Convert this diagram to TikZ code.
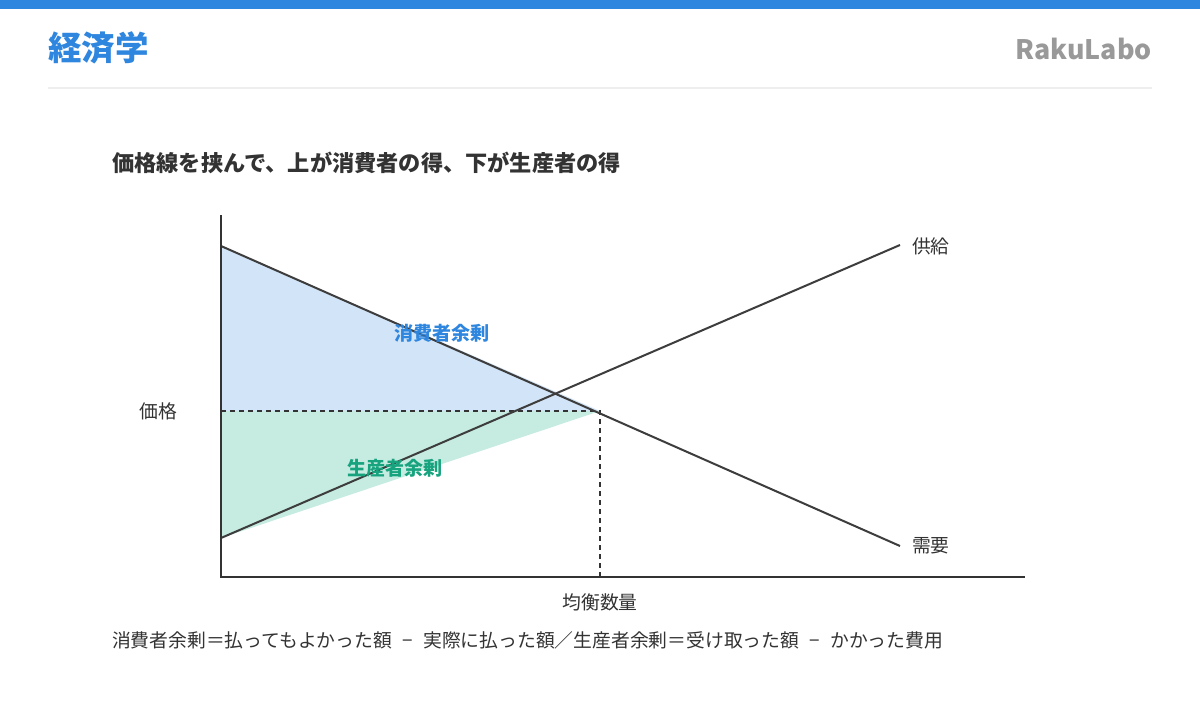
\documentclass[tikz,border=0pt]{standalone}
\usepackage{fontspec}
\setmainfont{Noto Sans CJK JP}
\definecolor{brandblue}{HTML}{2E86DE}
\definecolor{darktext}{HTML}{333333}
\definecolor{logogray}{HTML}{999999}
\definecolor{sepgray}{HTML}{EEEEEE}
\definecolor{csfill}{HTML}{D2E4F7}
\definecolor{psfill}{HTML}{C6EBE1}
\definecolor{psgreen}{HTML}{16A37E}
\tikzset{
  txt/.style={inner sep=0pt, outer sep=0pt, text=darktext, font=\fontsize{18.8}{22}\selectfont},
  boldlbl/.style={inner sep=0pt, outer sep=0pt, font=\fontsize{19}{22}\selectfont\bfseries},
  axisline/.style={draw=darktext, line width=2pt},
  curve/.style={draw=darktext!95, line width=2pt},
  guide/.style={draw=darktext, line width=1.5pt, dash pattern=on 5pt off 4pt},
}
\begin{document}
\begin{tikzpicture}[x=1pt,y=-1pt]
\useasboundingbox (0,0) rectangle (1200,720);
\fill[white] (0,0) rectangle (1200,720);
% header
\fill[brandblue] (0,0) rectangle (1200,9);
\node[anchor=west, inner sep=0pt, text=brandblue, font=\fontsize{33.5}{36}\selectfont\bfseries] (title) at (48,48) {経済学};
\node[anchor=east, inner sep=0pt, text=logogray, font=\fontsize{26.8}{30}\selectfont\bfseries] (logo) at (1152,49) {RakuLabo};
\draw[sepgray, line width=2pt] (48,88) -- (1152,88);
\node[anchor=west, inner sep=0pt, text=darktext, font=\fontsize{22.2}{26}\selectfont\bfseries] (subtitle) at (112,163) {価格線を挟んで、上が消費者の得、下が生産者の得};
% coordinates
\coordinate (O) at (221,577);
\coordinate (ytop) at (221,215);
\coordinate (xend) at (1025,577);
\coordinate (d1) at (221,246);
\coordinate (d2) at (900,546);
\coordinate (s1) at (221,538);
\coordinate (s2) at (900,245);
\coordinate (p0) at (221,411);
\coordinate (eq) at (600,411);
\coordinate (q0) at (600,577);
% fills
\fill[csfill] (d1) -- (eq) -- (p0) -- cycle;
\fill[psfill] (p0) -- (eq) -- (s1) -- cycle;
% guides
\draw[guide] (p0) -- (eq) -- (q0);
% curves
\draw[curve] (d1) -- (d2);
\draw[curve] (s1) -- (s2);
% axes
\draw[axisline] (ytop) -- (O) -- (xend);
% labels
\node[boldlbl, text=brandblue] (cs) at (442,333) {消費者余剰};
\node[boldlbl, text=psgreen] (ps) at (395,468) {生産者余剰};
\node[txt, anchor=east] (price) at (177,411) {価格};
\node[txt, anchor=west] (supply) at (912,246) {供給};
\node[txt, anchor=west] (demand) at (912,546) {需要};
\node[txt] (qty) at (600,602) {均衡数量};
\node[txt, anchor=west] (note) at (112,640) {消費者余剰＝払ってもよかった額\hspace{0.55em}−\hspace{0.55em}実際に払った額／生産者余剰＝受け取った額\hspace{0.55em}−\hspace{0.55em}かかった費用};
\end{tikzpicture}
\end{document}
